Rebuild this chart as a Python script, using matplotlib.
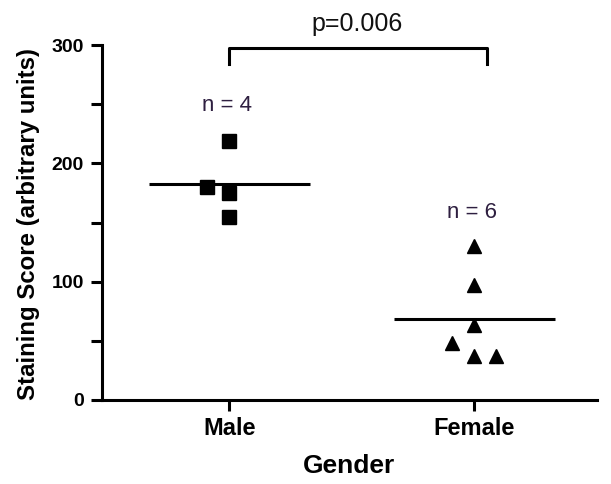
import numpy as np
import matplotlib
matplotlib.use("Agg")
import matplotlib.pyplot as plt

plt.rcParams['font.family'] = ['Liberation Sans', 'DejaVu Sans']

# data
groups = ["Male", "Female"]
male_scores = [219, 175, 155, 180]
male_offsets = [0.0, 0.0, 0.0, -0.09]
female_scores = [130, 97, 63, 48, 37, 37]
female_offsets = [0.0, 0.0, 0.0, -0.09, 0.0, 0.09]
n_labels = ["n = 4", "n = 6"]
n_label_y = [244, 154]
p_text = "p=0.006"

fig = plt.figure(figsize=(6.11, 4.84), dpi=100)
ax = fig.add_axes([0.167, 0.1736, 0.81, 0.733])

xm = np.array(male_offsets) + 0
xf = np.array(female_offsets) + 1
ax.plot(xm, male_scores, 's', color='black', markersize=10, clip_on=False)
ax.plot(xf, female_scores, '^', color='black', markersize=10, clip_on=False)

# group means
for i, vals in enumerate([male_scores, female_scores]):
    m = np.mean(vals)
    ax.plot([i - 0.33, i + 0.33], [m, m], color='black', lw=2.2, solid_capstyle='butt')

for i, (t, yv) in enumerate(zip(n_labels, n_label_y)):
    ax.text(i - 0.01, yv, t, ha='center', va='baseline', fontsize=16, color='#2e1f40')

# significance bracket
ax.plot([0, 0, 1.05, 1.05], [284, 298, 298, 284], color='black', lw=2.2, clip_on=False)
ax.text(0.52, 312, p_text, ha='center', va='baseline', fontsize=18, color='#111111', clip_on=False)

ax.set_xlim(-0.52, 1.50)
ax.set_ylim(0, 300)
ax.set_xticks([0, 1])
ax.set_xticklabels(groups, fontsize=17, fontweight='bold')
ax.set_yticks([0, 100, 200, 300])
ax.set_yticks([50, 150, 250], minor=True)
ax.tick_params(axis='y', labelsize=14, width=2.2, length=8, pad=5)
ax.tick_params(axis='y', which='minor', width=2.2, length=8)
ax.tick_params(axis='x', width=2.2, length=8, pad=4)
for lbl in ax.get_yticklabels():
    lbl.set_fontweight('bold')

for s in ['top', 'right']:
    ax.spines[s].set_visible(False)
for s in ['left', 'bottom']:
    ax.spines[s].set_linewidth(2.2)

ax.set_xlabel("Gender", fontsize=19, fontweight='bold', labelpad=10)
ax.set_ylabel("Staining Score (arbitrary units)", fontsize=17.3, fontweight='bold')
ax.yaxis.set_label_coords(-0.125, 0.497)

fig.savefig("out.png", dpi=100)
